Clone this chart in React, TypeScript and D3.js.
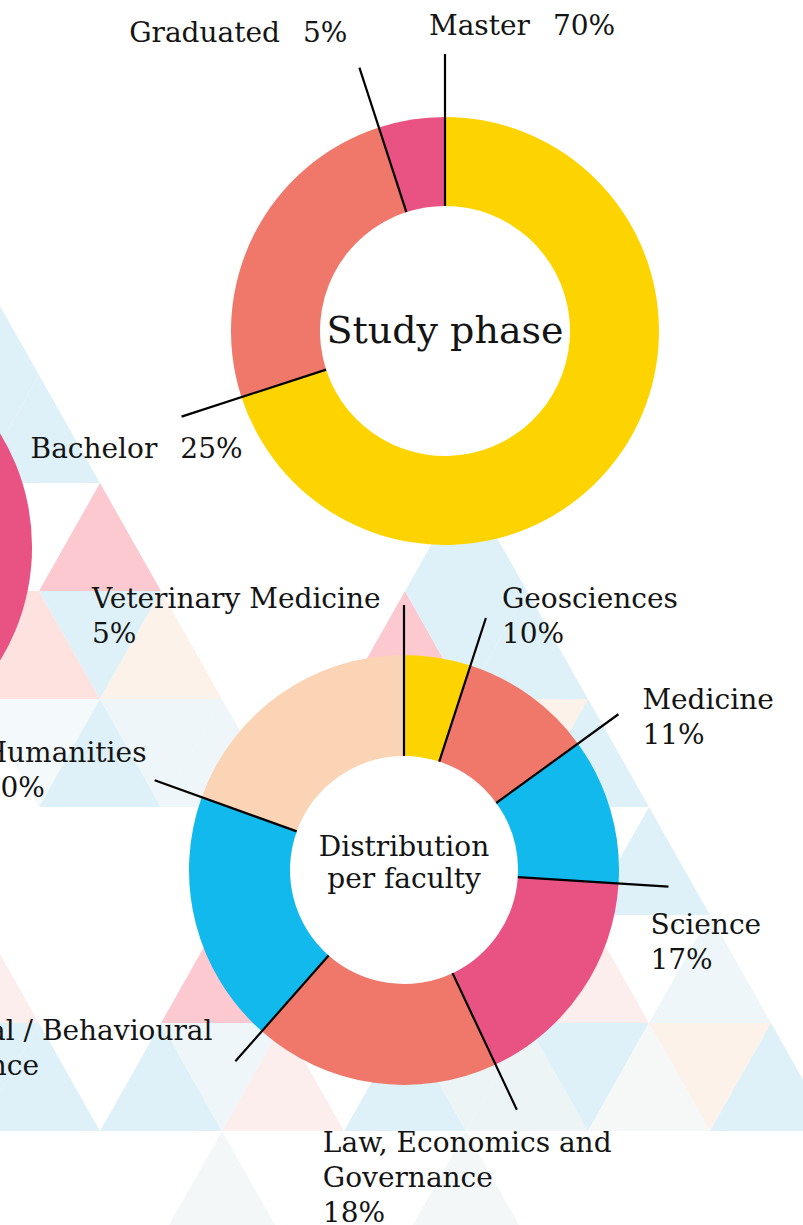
import React from 'react';
import * as d3 from 'd3';

// ---------- data ----------
const phaseNames = ['Master', 'Bachelor', 'Graduated'];
const phaseValues = [70, 25, 5];
const phasePct = ['70%', '25%', '5%'];
const phaseColors = ['#FED400', '#EF786A', '#E95383'];

const facultyNames = [
  'Veterinary Medicine',
  'Geosciences',
  'Medicine',
  'Science',
  'Law, Economics and\nGovernance',
  'Social / Behavioural\nScience',
  'Humanities',
];
const facultyValues = [5, 10, 11, 17, 18.5, 19, 19.5];
const facultyPct = ['5%', '10%', '11%', '17%', '18%', '19%', '20%'];
const facultyColors = ['#FED400', '#EF786A', '#12B9EC', '#E95383', '#EF786A', '#12B9EC', '#FBD3B5'];

// partially visible third chart at the left edge
const sideValues = [100];
const sideColors = ['#E95383'];

// ---------- layout ----------
const W = 803;
const H = 1225;
const FONT = '"DejaVu Serif", serif';

const D1 = { cx: 445, cy: 331, rIn: 125, rOut: 214, rLine: 277 };
const D2 = { cx: 404, cy: 870, rIn: 114, rOut: 215 };
const D3 = { cx: -186, cy: 547, rIn: 125, rOut: 218 };

// label offsets relative to leader-line end
const phaseLabelLayout = [
  { dx: -16, dy: -19, anchor: 'start' },
  { dx: -151, dy: 41, anchor: 'start' },
  { dx: -12, dy: -26, anchor: 'end' },
];
const facultyLabelLayout = [
  { dx: -312, dy: 3, r: 265 },
  { dx: 16, dy: -10, r: 265 },
  { dx: 24, dy: -5, r: 265 },
  { dx: -18, dy: 47, r: 265 },
  { dx: -194, dy: 42, r: 265 },
  { dx: -307, dy: -21, r: 255 },
  { dx: -172, dy: -18, r: 265 },
];

// background triangle lattice: [row, column, colour key]
const bgPalette: Record<string, string> = {
  LB: '#DFF1F8',
  VL: '#EEF6F9',
  WB: '#F4F9FB',
  PK: '#FDC9D0',
  PPl: '#FDE2DF',
  PPk: '#FBEEED',
  PE: '#FDF2E9',
  GR: '#F6F7F7',
  GB: '#ECF4F6',
  FG: '#F4F7F8',
};
const bgCells: [number, number, string][] = [
  [-2, 0, 'LB'], [-1, 0, 'LB'], [-1, 1, 'LB'],
  [0, 2, 'PK'], [0, 8, 'LB'],
  [1, 0, 'PPl'], [1, 1, 'PPl'], [1, 2, 'LB'], [1, 3, 'PE'], [1, 7, 'PK'], [1, 8, 'LB'], [1, 9, 'LB'],
  [2, 1, 'WB'], [2, 2, 'LB'], [2, 3, 'VL'], [2, 4, 'VL'], [2, 9, 'PE'], [2, 10, 'LB'],
  [3, 11, 'LB'],
  [4, 0, 'PPk'], [4, 4, 'PK'], [4, 9, 'PPk'], [4, 10, 'PPk'], [4, 12, 'VL'],
  [5, 0, 'LB'], [5, 1, 'LB'], [5, 3, 'LB'], [5, 4, 'VL'], [5, 5, 'PPk'], [5, 7, 'LB'], [5, 8, 'GB'],
  [5, 9, 'GB'], [5, 10, 'LB'], [5, 11, 'GR'], [5, 12, 'PE'], [5, 13, 'LB'],
  [6, 4, 'FG'], [6, 8, 'FG'],
];
const LAT = { x0: -22, half: 61, y0: 483, rowH: 108 };

function triPoints(r: number, j: number): string {
  const cx = LAT.x0 + LAT.half * j;
  const top = LAT.y0 + LAT.rowH * r;
  const bot = top + LAT.rowH;
  const up = (((r + j) % 2) + 2) % 2 === 0;
  const pts = up
    ? [[cx, top], [cx - LAT.half, bot], [cx + LAT.half, bot]]
    : [[cx - LAT.half, top], [cx + LAT.half, top], [cx, bot]];
  return pts.map((p) => p.join(',')).join(' ');
}

const pt = (r: number, a: number): [number, number] => [r * Math.sin(a), -r * Math.cos(a)];

export default function App() {
  const pie = d3.pie<number>().sort(null).value((d) => d);
  const phaseArcs = pie(phaseValues);
  const facArcs = pie(facultyValues);
  const sideArcs = pie(sideValues);

  const arc1 = d3.arc<d3.PieArcDatum<number>>().innerRadius(D1.rIn).outerRadius(D1.rOut);
  const arc2 = d3.arc<d3.PieArcDatum<number>>().innerRadius(D2.rIn).outerRadius(D2.rOut);
  const arc3 = d3.arc<d3.PieArcDatum<number>>().innerRadius(D3.rIn).outerRadius(D3.rOut);

  const textStyle = { fontFamily: FONT, fill: '#141414' } as React.CSSProperties;

  return (
    <svg
      width={W}
      height={H}
      viewBox={`0 0 ${W} ${H}`}
      style={{ position: 'absolute', left: 0, top: 0, background: '#fff' }}
    >
      <rect x={0} y={0} width={W} height={H} fill="#fff" />
      <g>
        {bgCells.map(([r, j, k], i) => (
          <polygon key={i} points={triPoints(r, j)} fill={bgPalette[k]} />
        ))}
      </g>

      {/* partial chart at left edge */}
      <g transform={`translate(${D3.cx},${D3.cy})`}>
        {sideArcs.map((a, i) => (
          <path key={i} d={arc3(a) || ''} fill={sideColors[i]} />
        ))}
      </g>

      {/* Study phase donut */}
      <g transform={`translate(${D1.cx},${D1.cy})`}>
        <circle r={D1.rIn} fill="#fff" />
        {phaseArcs.map((a, i) => (
          <path key={i} d={arc1(a) || ''} fill={phaseColors[i]} />
        ))}
        {phaseArcs.map((a, i) => {
          const [x1, y1] = pt(D1.rIn, a.startAngle);
          const [x2, y2] = pt(D1.rLine, a.startAngle);
          const L = phaseLabelLayout[i];
          return (
            <g key={'l' + i}>
              <line x1={x1} y1={y1} x2={x2} y2={y2} stroke="#000" strokeWidth={2.2} />
              <text
                x={x2 + L.dx}
                y={y2 + L.dy}
                textAnchor={L.anchor as any}
                fontSize={28}
                style={textStyle}
              >
                <tspan>{phaseNames[i]}</tspan>
                <tspan dx={23}>{phasePct[i]}</tspan>
              </text>
            </g>
          );
        })}
        <text x={0} y={12} textAnchor="middle" fontSize={38} style={textStyle}>
          Study phase
        </text>
      </g>

      {/* Distribution per faculty donut */}
      <g transform={`translate(${D2.cx},${D2.cy})`}>
        <circle r={D2.rIn} fill="#fff" />
        {facArcs.map((a, i) => (
          <path key={i} d={arc2(a) || ''} fill={facultyColors[i]} />
        ))}
        {facArcs.map((a, i) => {
          const L = facultyLabelLayout[i];
          const [x1, y1] = pt(D2.rIn, a.startAngle);
          const [x2, y2] = pt(L.r, a.startAngle);
          const lines = [...facultyNames[i].split('\n'), facultyPct[i]];
          return (
            <g key={'l' + i}>
              <line x1={x1} y1={y1} x2={x2} y2={y2} stroke="#000" strokeWidth={2.2} />
              <text x={x2 + L.dx} y={y2 + L.dy} fontSize={28} style={textStyle}>
                {lines.map((t, k) => (
                  <tspan key={k} x={x2 + L.dx} dy={k === 0 ? 0 : 35}>
                    {t}
                  </tspan>
                ))}
              </text>
            </g>
          );
        })}
        <text x={0} y={-14} textAnchor="middle" fontSize={28} style={textStyle}>
          <tspan x={0}>Distribution</tspan>
          <tspan x={0} dy={32}>per faculty</tspan>
        </text>
      </g>
    </svg>
  );
}
